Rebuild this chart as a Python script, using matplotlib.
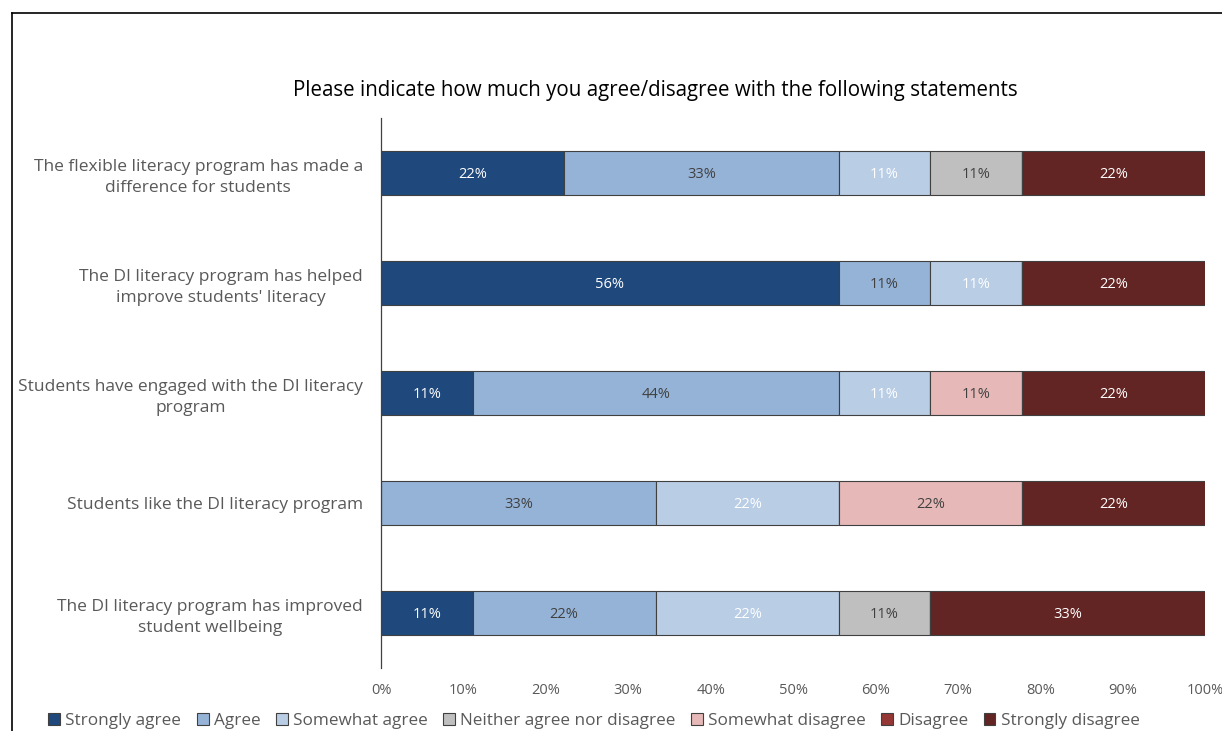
import numpy as np
import matplotlib
matplotlib.use("Agg")
import matplotlib.pyplot as plt
from matplotlib.lines import Line2D

plt.rcParams['font.family'] = ['Open Sans', 'DejaVu Sans']

# survey responses, counts out of 9 respondents per statement
statements = [
    "The flexible literacy program has made a\ndifference for students",
    "The DI literacy program has helped\nimprove students' literacy",
    "Students have engaged with the DI literacy\nprogram",
    "Students like the DI literacy program",
    "The DI literacy program has improved\nstudent wellbeing",
]
responses = ["Strongly agree", "Agree", "Somewhat agree",
             "Neither agree nor disagree", "Somewhat disagree",
             "Disagree", "Strongly disagree"]
nRespondents = 9
strongly_agree = [2, 5, 1, 0, 1]
agree = [3, 1, 4, 3, 2]
somewhat_agree = [1, 1, 1, 2, 2]
neither = [1, 0, 0, 0, 1]
somewhat_disagree = [0, 0, 1, 2, 0]
disagree = [0, 0, 0, 0, 0]
strongly_disagree = [2, 2, 2, 2, 3]

colors = ["#1F497D", "#95B3D7", "#B9CDE5", "#BFBFBF",
          "#E6B9B8", "#953735", "#632523"]
labelColors = ["white", "#404040", "white", "#404040",
               "#404040", "white", "white"]
textGrey = "#595959"

counts = np.array([strongly_agree, agree, somewhat_agree, neither,
                   somewhat_disagree, disagree, strongly_disagree], dtype=float)
pct = counts / nRespondents * 100

fig = plt.figure(figsize=(12.22, 7.31), dpi=100)
ax = fig.add_axes([0.3118, 0.0862, 0.6743, 0.7524])

y = np.arange(len(statements))
left = np.zeros(len(statements))
for i, name in enumerate(responses):
    ax.barh(y, pct[i], left=left, height=0.4, color=colors[i],
            edgecolor="#404040", linewidth=0.8, label=name)
    for j in range(len(statements)):
        if pct[i][j] > 0:
            ax.text(left[j] + pct[i][j] / 2, y[j], "%d%%" % round(pct[i][j]),
                    ha="center", va="center_baseline", fontsize=10.5,
                    color=labelColors[i])
    left += pct[i]

ax.set_xlim(0, 100)
ax.set_ylim(len(statements) - 0.5, -0.5)
ax.set_yticks(y)
ax.set_yticklabels(statements, fontsize=12.5, color=textGrey,
                   multialignment="center", linespacing=1.45)
ax.set_xticks(np.arange(0, 101, 10))
ax.set_xticklabels(["%d%%" % v for v in range(0, 101, 10)],
                   fontsize=10.5, color=textGrey)
ax.tick_params(axis="y", length=0, pad=13)
ax.tick_params(axis="x", length=0, pad=11)
for side in ["top", "right", "bottom"]:
    ax.spines[side].set_visible(False)
ax.spines["left"].set_color("#404040")
ax.spines["left"].set_linewidth(0.9)

fig.text(0.536, 0.876, "Please indicate how much you agree/disagree with the following statements",
         ha="center", va="center", fontsize=14.8, color="black")

handles, labels = ax.get_legend_handles_labels()
fig.legend(handles, labels, loc="center", bbox_to_anchor=(0.486, 0.014),
           ncol=7, frameon=False, fontsize=12.3, handlelength=0.7,
           handleheight=0.7, handletextpad=0.3, columnspacing=0.9,
           labelcolor=textGrey)

# chart frame, left and top edges
fig.add_artist(Line2D([12 / 1222, 12 / 1222], [0, 1 - 13 / 731],
                      transform=fig.transFigure, color="black", linewidth=1.2))
fig.add_artist(Line2D([12 / 1222, 1], [1 - 13 / 731, 1 - 13 / 731],
                      transform=fig.transFigure, color="black", linewidth=1.2))

fig.savefig("out.png", dpi=100)
